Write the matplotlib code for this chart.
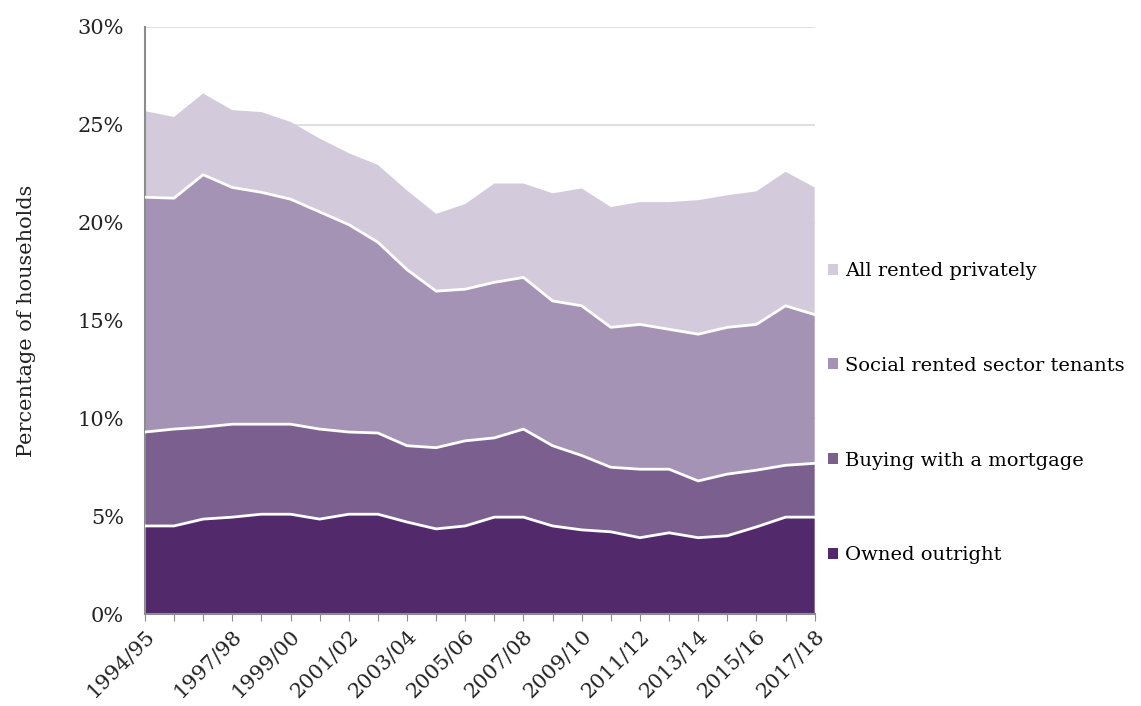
import numpy as np
import matplotlib
matplotlib.use("Agg")
import matplotlib.pyplot as plt
from matplotlib.patches import Patch

# data (percentage of households)
years = ["1994/95", "1995/96", "1996/97", "1997/98", "1998/99", "1999/00",
         "2000/01", "2001/02", "2002/03", "2003/04", "2004/05", "2005/06",
         "2006/07", "2007/08", "2008/09", "2009/10", "2010/11", "2011/12",
         "2012/13", "2013/14", "2014/15", "2015/16", "2016/17", "2017/18"]
owned_outright = [4.5, 4.5, 4.85, 4.95, 5.1, 5.1, 4.85, 5.1, 5.1, 4.7, 4.35, 4.5,
                  4.95, 4.95, 4.5, 4.3, 4.2, 3.9, 4.15, 3.9, 4.0, 4.45, 4.95, 4.95]
mortgage = [4.8, 4.95, 4.7, 4.75, 4.6, 4.6, 4.6, 4.2, 4.15, 3.9, 4.15, 4.35,
            4.05, 4.5, 4.1, 3.8, 3.3, 3.5, 3.25, 2.9, 3.15, 2.9, 2.65, 2.75]
social_rented = [12.0, 11.8, 12.9, 12.1, 11.85, 11.5, 11.1, 10.6, 9.75, 9.0, 8.0, 7.75,
                 7.95, 7.75, 7.4, 7.65, 7.15, 7.4, 7.15, 7.5, 7.5, 7.45, 8.15, 7.6]
private_rented = [4.4, 4.15, 4.15, 3.95, 4.1, 3.95, 3.75, 3.65, 3.95, 4.05, 3.95, 4.35,
                  5.05, 4.8, 5.5, 6.0, 6.15, 6.25, 6.5, 6.85, 6.75, 6.8, 6.85, 6.5]
labels = ["Owned outright", "Buying with a mortgage",
          "Social rented sector tenants", "All rented privately"]
shown_years = ["1994/95", "1997/98", "1999/00", "2001/02", "2003/04", "2005/06",
               "2007/08", "2009/10", "2011/12", "2013/14", "2015/16", "2017/18"]

colors = ["#522a6c", "#7b5f8e", "#a593b5", "#d3cadb"]

plt.rcParams['font.family'] = ['DejaVu Serif', 'Liberation Serif']
fs = 15

fig = plt.figure(figsize=(11.41, 7.06), dpi=100)
ax = fig.add_axes([0.127, 0.1303, 0.587, 0.8315])

x = np.arange(len(years))
series = [owned_outright, mortgage, social_rented, private_rented]
ax.stackplot(x, *series, colors=colors, zorder=2)

# white separators between the layers
cum = np.cumsum(np.array(series), axis=0)
for row in cum[:-1]:
    ax.plot(x, row, color="white", lw=2, zorder=3)

ax.set_xlim(0, len(years) - 1)
ax.set_ylim(0, 30)
ax.set_yticks(np.arange(0, 31, 5))
ax.set_yticklabels([f"{v}%" for v in range(0, 31, 5)], fontsize=fs, color="#222222")
ax.yaxis.grid(True, color="#d9d9d9", lw=1.2, zorder=0)
ax.set_axisbelow(True)
ax.tick_params(axis="y", length=0, pad=15)

ax.set_xticks(x)
ax.set_xticklabels([y if y in shown_years else "" for y in years],
                   rotation=45, ha="right", rotation_mode="anchor",
                   fontsize=fs, color="#222222")
ax.tick_params(axis="x", length=5, color="#8c8c8c", pad=4)

for s in ["top", "right"]:
    ax.spines[s].set_visible(False)
ax.spines["left"].set_color("#8c8c8c")
ax.spines["left"].set_linewidth(1.5)
ax.spines["bottom"].set_color("#8c8c8c")
ax.spines["bottom"].set_linewidth(1.5)

ax.set_ylabel("Percentage of households", fontsize=fs, color="#222222", labelpad=30)

handles = [Patch(facecolor=c, edgecolor="none") for c in colors]
leg = ax.legend(handles[::-1], labels[::-1], loc="center left",
                bbox_to_anchor=(1.0, 0.342), frameon=False, fontsize=14,
                handlelength=0.5, handleheight=0.5, handletextpad=0.35,
                labelspacing=3.95, borderaxespad=0.3)

fig.savefig("out.png", dpi=100)
